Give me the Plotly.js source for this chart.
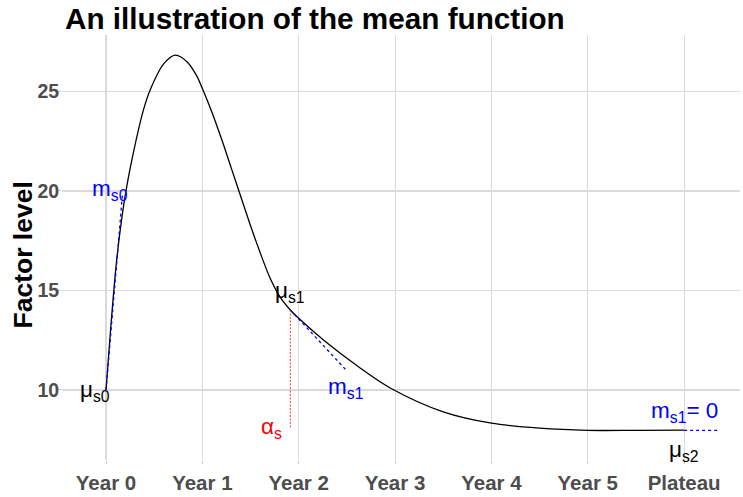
<!DOCTYPE html>
<html>
<head>
<meta charset="utf-8">
<script src="https://cdn.plot.ly/plotly-3.0.1.min.js"></script>
<style>html,body{margin:0;padding:0;background:#fff}#chart{width:743px;height:497px}</style>
</head>
<body>
<div id="chart"></div>
<script>
// Mean function
const curveX = [0, 0.05, 0.11, 0.19, 0.27, 0.39, 0.46, 0.60, 0.72, 0.84, 0.94, 1.00, 1.10, 1.20, 1.30, 1.40, 1.50, 1.60, 1.70, 1.80, 1.913, 2.00, 2.26, 2.61, 2.95, 3.50, 4.00, 4.50, 5.00, 5.50, 6.00];
const curveY = [10, 13.2, 16.5, 19.5, 21.6, 24.1, 25.1, 26.4, 26.83, 26.5, 25.8, 25.15, 23.95, 22.6, 21.15, 19.7, 18.25, 16.9, 15.65, 14.72, 14.02, 13.6, 12.5, 11.2, 10.1, 8.9, 8.33, 8.08, 7.97, 7.97, 7.98];

// Tangent at start (m_s0)
const tan0X = [0, 0.17];
const tan0Y = [10, 19.8];
// Tangent at alpha_s (m_s1)
const tan1X = [1.913, 2.484];
const tan1Y = [14.02, 11.04];
// alpha_s vertical marker
const alphaX = [1.913, 1.913];
const alphaY = [14.02, 8.1];
// Plateau slope (m = 0)
const plateauX = [6.0, 6.37];
const plateauY = [7.97, 7.97];

// Axis ticks
const xTickVals = [0, 1, 2, 3, 4, 5, 6];
const xTickText = ["Year 0", "Year 1", "Year 2", "Year 3", "Year 4", "Year 5", "Plateau"];
const yTickVals = [10, 15, 20, 25];

// Labels: text, x, y, colour
const labelText = ["μ<sub>s0</sub>", "m<sub>s0</sub>", "μ<sub>s1</sub>", "m<sub>s1</sub>", "α<sub>s</sub>", "m<sub>s1</sub>= 0", "μ<sub>s2</sub>"];
const labelX = [-0.115, 0.04, 1.913, 2.484, 1.72, 6.0, 6.0];
const labelY = [9.95, 20.05, 14.9, 10.1, 8.1, 8.9, 6.95];
const labelColor = ["black", "blue", "black", "blue", "red", "blue", "black"];

const FONT = "Liberation Sans, Arial, sans-serif";

const traces = [
  {x: curveX, y: curveY, mode: "lines", line: {color: "black", width: 1.3, shape: "spline", smoothing: 0.9}, hoverinfo: "skip"},
  {x: tan0X, y: tan0Y, mode: "lines", line: {color: "blue", width: 1.3, dash: "dot"}, hoverinfo: "skip"},
  {x: tan1X, y: tan1Y, mode: "lines", line: {color: "blue", width: 1.3, dash: "dot"}, hoverinfo: "skip"},
  {x: alphaX, y: alphaY, mode: "lines", line: {color: "#ff2020", width: 0.9, dash: "2px,1.5px"}, hoverinfo: "skip"},
  {x: plateauX, y: plateauY, mode: "lines", line: {color: "blue", width: 1.3, dash: "dot"}, hoverinfo: "skip"}
];

const annotations = labelText.map((t, i) => ({
  x: labelX[i], y: labelY[i], xref: "x", yref: "y", text: t, showarrow: false,
  xanchor: "center", yanchor: "middle",
  font: {family: FONT, size: 22.5, color: labelColor[i]}
}));
// y-axis title placed precisely
annotations.push({
  x: (22.5 - 62) / 678, y: (460 - 255) / 425, xref: "paper", yref: "paper",
  text: "Factor level", textangle: -90, showarrow: false, xanchor: "center", yanchor: "middle",
  font: {family: FONT, size: 26.5, color: "black", weight: "bold"}
});

const layout = {
  width: 743, height: 497,
  margin: {l: 62, r: 3, t: 35, b: 37, pad: 0},
  paper_bgcolor: "white", plot_bgcolor: "white",
  showlegend: false,
  title: {text: "An illustration of the mean function", x: 65/743, xanchor: "left", xref: "container", yref: "container", y: 1 - 19/497, yanchor: "middle",
    font: {family: FONT, size: 29.7, color: "black", weight: "bold"}},
  xaxis: {
    range: [-0.457, 6.58], tickvals: xTickVals, ticktext: xTickText,
    showgrid: true, gridcolor: "#dadada", gridwidth: 1.1, zeroline: false, showline: false,
    ticks: "outside", ticklen: 3, tickcolor: "#c8c8c8", ticklabelstandoff: 1,
    tickfont: {family: FONT, size: 20.5, color: "#4d4d4d", weight: "bold"},
    fixedrange: true
  },
  yaxis: {
    range: [6.48, 27.84], tickvals: yTickVals,
    showgrid: true, gridcolor: "#dadada", gridwidth: 1.1, zeroline: false, showline: false,
    ticks: "outside", ticklen: 3, tickcolor: "#c8c8c8", ticklabelstandoff: -5,
    tickfont: {family: FONT, size: 19.5, color: "#4d4d4d", weight: "bold"},
    automargin: false, fixedrange: true
  },
  annotations: annotations
};

Plotly.newPlot("chart", traces, layout, {displayModeBar: false, staticPlot: true});
</script>
</body>
</html>
